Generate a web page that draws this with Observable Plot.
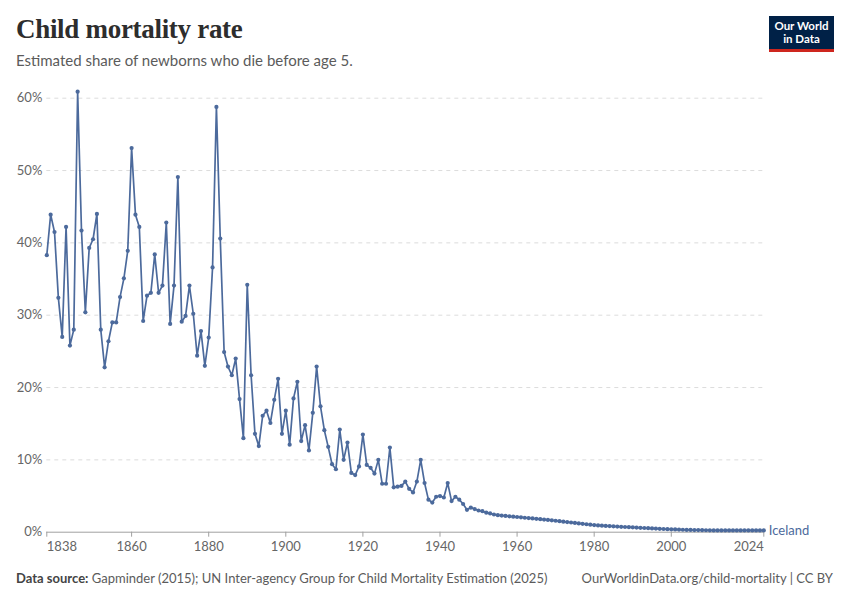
<!DOCTYPE html>
<html>
<head>
<meta charset="utf-8">
<script src="https://cdn.jsdelivr.net/npm/d3@7"></script>
<script src="https://cdn.jsdelivr.net/npm/@observablehq/plot@0.6"></script>
<style>
  html, body { margin: 0; padding: 0; background: #fff; }
  #page { position: relative; width: 850px; height: 600px; overflow: hidden; font-family: Lato, "Noto Sans", sans-serif; }
  #title { position: absolute; left: 16px; top: 14px; font-family: "Liberation Serif", "DejaVu Serif", serif; font-weight: bold; font-size: 27px; color: #2d2d2d; letter-spacing: -0.3px; white-space: nowrap; }
  #subtitle { position: absolute; left: 16px; top: 51px; font-size: 15px; color: #5b5b5b; white-space: nowrap; }
  #logo { position: absolute; left: 769px; top: 16px; width: 65px; height: 33px; background: #002147; border-bottom: 3px solid #ce261e; }
  #logo div { position: absolute; left: 0; width: 65px; text-align: center; color: #fff; font-size: 11.5px; font-weight: bold; line-height: 12px; white-space: nowrap; }
  #chart { position: absolute; left: 0; top: 80px; }
  #footer-left { position: absolute; left: 16px; top: 570px; font-size: 13px; color: #5b5b5b; white-space: nowrap; }
  #footer-left b { color: #444; font-weight: bold; }
  #footer-right { position: absolute; right: 17px; top: 570px; font-size: 13px; color: #5b5b5b; white-space: nowrap; }
</style>
</head>
<body>
<div id="page">
  <div id="title">Child mortality rate</div>
  <div id="subtitle">Estimated share of newborns who die before age 5.</div>
  <div id="logo"><div style="top:4px">Our World</div><div style="top:17px">in Data</div></div>
  <div id="chart"></div>
  <div id="footer-left"><b>Data source:</b> Gapminder (2015); UN Inter-agency Group for Child Mortality Estimation (2025)</div>
  <div id="footer-right">OurWorldinData.org/child-mortality | CC BY</div>
</div>
<script>
const country = "Iceland";
const startYear = 1838;
// Under-5 mortality, % of newborns, 1838..2024 (one value per year)
const values = [
  38.3, 43.9, 41.5, 32.4, 27.0, 42.2, 25.8, 28.0, 60.9, 41.7,   // 1838-1847
  30.4, 39.3, 40.5, 44.0, 28.0, 22.8, 26.4, 29.0, 29.0, 32.5,   // 1848-1857
  35.1, 38.9, 53.1, 43.9, 42.2, 29.2, 32.7, 33.1, 38.4, 33.1,   // 1858-1867
  34.1, 42.8, 28.8, 34.1, 49.1, 29.1, 29.9, 34.1, 30.2, 24.4,   // 1868-1877
  27.8, 23.0, 26.9, 36.6, 58.8, 40.6, 24.9, 22.9, 21.7, 24.0,   // 1878-1887
  18.4, 13.0, 34.2, 21.7, 13.6, 11.9, 16.1, 16.8, 15.1, 18.3,   // 1888-1897
  21.2, 13.6, 16.8, 12.1, 18.5, 20.8, 12.6, 14.8, 11.3, 16.5,   // 1898-1907
  22.9, 17.4, 14.1, 11.8, 9.4, 8.7, 14.2, 10.0, 12.4, 8.2,      // 1908-1917
  7.9, 9.1, 13.5, 9.3, 8.9, 8.1, 10.0, 6.7, 6.7, 11.7,          // 1918-1927
  6.2, 6.3, 6.4, 7.0, 6.0, 5.5, 7.0, 10.0, 6.8, 4.5,            // 1928-1937
  4.1, 4.9, 5.0, 4.8, 6.8, 4.3, 4.9, 4.5, 3.9, 3.1,             // 1938-1947
  3.4, 3.2, 3.0, 2.9, 2.7, 2.6, 2.45, 2.35, 2.3, 2.25,          // 1948-1957
  2.2, 2.15, 2.1, 2.05, 2.0, 1.95, 1.9, 1.85, 1.8, 1.75,        // 1958-1967
  1.7, 1.64, 1.58, 1.52, 1.46, 1.4, 1.34, 1.28, 1.22, 1.16,     // 1968-1977
  1.1, 1.04, 0.98, 0.94, 0.9, 0.87, 0.84, 0.81, 0.78, 0.75,     // 1978-1987
  0.72, 0.7, 0.67, 0.64, 0.61, 0.58, 0.55, 0.52, 0.5, 0.47,     // 1988-1997
  0.44, 0.42, 0.4, 0.38, 0.36, 0.34, 0.32, 0.31, 0.3, 0.29,     // 1998-2007
  0.28, 0.27, 0.26, 0.25, 0.25, 0.24, 0.24, 0.24, 0.24, 0.24,   // 2008-2017
  0.24, 0.24, 0.24, 0.25, 0.25, 0.25, 0.25                      // 2018-2024
];
const xTicks = [1838, 1860, 1880, 1900, 1920, 1940, 1960, 1980, 2000, 2024];
const yTicks = [0, 10, 20, 30, 40, 50, 60];

const data = values.map((v, i) => ({year: startYear + i, value: v}));
const last = data[data.length - 1];
const color = "#4c6a9c";
const firstTick = xTicks[0], lastTick = xTicks[xTicks.length - 1];
const midTicks = xTicks.slice(1, -1);
const axisStyle = {tickSize: 5, tickPadding: 4.5, stroke: "#a0a0a0", fill: "#666", tickFormat: d => String(d), fontSize: 13, label: null};

const chart = Plot.plot({
  width: 850,
  height: 475,
  marginLeft: 46.3,
  marginRight: 86.7,
  marginTop: 17.7,
  marginBottom: 23.3,
  style: {fontFamily: "Lato, sans-serif", fontSize: "13px", color: "#666", background: "transparent"},
  x: {domain: [firstTick, lastTick], label: null},
  y: {domain: [0, 60], label: null},
  marks: [
    Plot.gridY(yTicks.filter(d => d > 0), {stroke: "#dcdcdc", strokeOpacity: 1, strokeDasharray: "4,4"}),
    Plot.axisY({ticks: yTicks, tickSize: 0, tickPadding: 4.5, tickFormat: d => d + "%", fill: "#666", fontSize: 13, label: null}),
    Plot.ruleY([0], {stroke: "#a0a0a0"}),
    Plot.axisX({...axisStyle, ticks: midTicks}),
    Plot.axisX({...axisStyle, ticks: [firstTick], textAnchor: "start"}),
    Plot.axisX({...axisStyle, ticks: [lastTick], textAnchor: "end"}),
    Plot.line(data, {x: "year", y: "value", stroke: color, strokeWidth: 1.7}),
    Plot.dot(data, {x: "year", y: "value", r: 2.1, fill: color, stroke: "none"}),
    Plot.text([last], {x: "year", y: "value", text: () => country, textAnchor: "start", dx: 5, fill: color, fontSize: 13})
  ]
});
document.getElementById("chart").appendChild(chart);
</script>
</body>
</html>
